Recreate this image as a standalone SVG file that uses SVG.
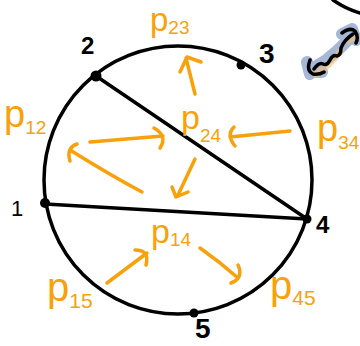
<svg xmlns="http://www.w3.org/2000/svg" width="360" height="346" viewBox="0 0 360 346">
<style>
.ink{fill:none;stroke:#000;stroke-width:3.5;stroke-linecap:round;stroke-linejoin:round}
.arr{fill:none;stroke:#F8A10B;stroke-width:3.5;stroke-linecap:round;stroke-linejoin:round}
.num{font-family:"Liberation Sans",sans-serif;font-weight:bold;fill:#000}
.lab{font-family:"Liberation Sans",sans-serif;fill:#F8A10B}
.dot{fill:#000}
</style>
<rect width="360" height="346" fill="#fff"/>
<g id="circle"><circle cx="178" cy="180" r="134" class="ink"/></g>
<g id="connectors">
<line x1="96" y1="76" x2="307" y2="219" class="ink"/>
<path d="M45,204 L307,219" class="ink"/>
</g>
<g id="n1"><circle cx="45" cy="203" r="5" class="dot"/><text class="num" x="11" y="216" font-size="22" style="font-weight:normal">1</text></g>
<g id="n2"><circle cx="96" cy="76" r="5.5" class="dot"/><text class="num" x="81" y="54" font-size="24">2</text></g>
<g id="n3"><circle cx="241" cy="65" r="4.5" class="dot"/><text class="num" x="259" y="63" font-size="28">3</text></g>
<g id="n4"><circle cx="307" cy="219" r="4.5" class="dot"/><text class="num" x="316" y="233" font-size="24">4</text></g>
<g id="n5"><circle cx="194" cy="313" r="4.5" class="dot"/><text class="num" x="195" y="338" font-size="28">5</text></g>
<g id="arrows">
<path class="arr" d="M195,94 L186,58 M180,72 L187,57 L201,62"/>
<path class="arr" d="M290,131 L230,137 M234,127 Q226,135 235,146"/>
<path class="arr" d="M90,142 L163,136 M154,128 Q168,136 160,148"/>
<path class="arr" d="M142,192 Q110,175 70,150 M77,144 Q66,148 70,161"/>
<path class="arr" d="M195,159 L178,195 M172,187 L176,197 L188,192"/>
<path class="arr" d="M107,283 L147,253 M135,250 Q150,250 146,265"/>
<path class="arr" d="M200,248 Q220,262 238,278 M238,265 Q244,278 231,283"/>
</g>
<g id="p23"><text class="lab" x="150" y="31" font-size="33">p<tspan font-size="19" dy="3">23</tspan></text></g>
<g id="p12"><text class="lab" x="4" y="127" font-size="38">p<tspan font-size="19" dy="7">12</tspan></text></g>
<g id="p24"><text class="lab" x="181" y="129" font-size="34">p<tspan font-size="19" dy="13">24</tspan></text></g>
<g id="p34"><text class="lab" x="317" y="141" font-size="38">p<tspan font-size="19" dy="8">34</tspan></text></g>
<g id="p14"><text class="lab" x="151" y="243" font-size="34">p<tspan font-size="19" dy="3">14</tspan></text></g>
<g id="p15"><text class="lab" x="47" y="301" font-size="40">p<tspan font-size="21" dy="7">15</tspan></text></g>
<g id="p45"><text class="lab" x="270" y="299" font-size="40">p<tspan font-size="21" dy="6">45</tspan></text></g>
<g id="topcurve"><path class="ink" d="M333,0 Q346,9 360,13"/></g>
<g id="squiggle">
<path d="M310,74 L307,62 M310,72 L322,72 M310,70 L325,61 L338,50 L352,36 M342,34 L352,29 L356,40" fill="none" stroke="#8299c4" stroke-width="12" stroke-linecap="round" stroke-linejoin="round" opacity="0.7"/>
<path d="M316,74 L328,65 L340,52 M348,40 L356,36" fill="none" stroke="#f3c27a" stroke-width="7" stroke-linecap="round" opacity="0.6"/>
<path class="ink" d="M314,69 Q319,62 323,64 Q327,66 330,60 Q333,54 337,56 Q341,55 341,48 Q344,40 353,34 M310,60 Q306,71 313,74 Q319,75 324,72 M342,33 Q350,27 355,31 Q359,37 356,43" stroke-width="3"/>
</g>
</svg>
